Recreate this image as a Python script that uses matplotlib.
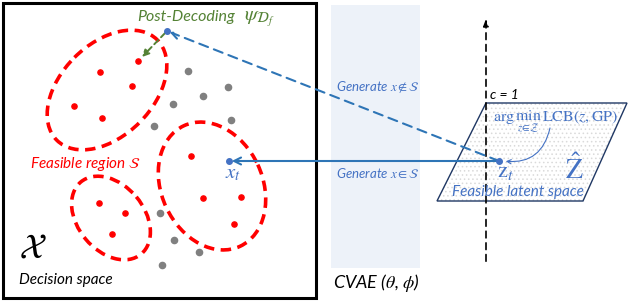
import matplotlib
matplotlib.use('Agg')
import matplotlib.pyplot as plt
from matplotlib.patches import Ellipse, Rectangle, Polygon

plt.rcParams['mathtext.fontset'] = 'stix'
plt.rcParams['hatch.linewidth'] = 0.6

# datos del diagrama (coordenadas en pixeles de la figura)
puntos_rojos_x = [138, 100, 132, 74, 102, 191, 203, 241, 234, 99, 125, 112]
puntos_rojos_y = [61, 72, 86, 106, 118, 156, 198, 197, 224, 203, 213, 234]
puntos_grises_x = [188, 228, 203, 173, 231, 154, 160, 174, 199, 162]
puntos_grises_y = [71, 87, 96, 104, 120, 126, 213, 240, 252, 265]
# regiones factibles: centro x, centro y, ancho, alto, angulo
regiones = [(107, 90, 142, 92, -45),
            (212, 186, 133, 101, 65),
            (111, 218, 94, 66, 50)]
punto_decod = (167, 31)
punto_xt = (229, 161)
punto_zt = (499, 161)
plano_x = [486, 627, 583, 437]
plano_y = [103, 103, 201, 201]

azul = '#2E75B6'
azul_txt = '#4472C4'
verde = '#548235'
fuente = ['Lato', 'DejaVu Sans']

fig = plt.figure(figsize=(6.28, 3.07), dpi=100)
ax = fig.add_axes([0, 0, 1, 1])
ax.set_xlim(0, 628)
ax.set_ylim(307, 0)
ax.axis('off')

# espacio de decision
ax.add_patch(Rectangle((3, 3), 313, 295, fill=False, ec='black', lw=2.2))
# banda CVAE
ax.add_patch(Rectangle((331, 5), 89, 263, fc='#EDF2F9', ec='none'))

for cx, cy, w, h, ang in regiones:
    ax.add_patch(Ellipse((cx, cy), w, h, angle=ang, fill=False, ec='red',
                         lw=2.6, ls=(0, (2.9, 1.8))))

ax.scatter(puntos_rojos_x, puntos_rojos_y, s=14, color='red', zorder=3)
ax.scatter(puntos_grises_x, puntos_grises_y, s=20, color='#808080', zorder=3)

# plano latente
pts = list(zip(plano_x, plano_y))
ax.add_patch(Polygon(pts, closed=True, fc='white', ec='#DADADA', hatch='....',
                     lw=0))
ax.add_patch(Polygon(pts, closed=True, fill=False, ec='#203864', lw=1))

# eje c
ax.annotate('', xy=(486, 16), xytext=(486, 264),
            arrowprops=dict(arrowstyle='-|>,head_width=0.15,head_length=0.4',
                            color='black', lw=1.2, ls=(0, (4, 3))))

# flechas
ax.annotate('', xy=punto_decod, xytext=punto_zt,
            arrowprops=dict(arrowstyle='->,head_width=0.25,head_length=0.5',
                            color=azul, lw=1.5, ls=(0, (4.5, 3)),
                            shrinkA=0, shrinkB=2))
ax.annotate('', xy=punto_xt, xytext=punto_zt,
            arrowprops=dict(arrowstyle='->,head_width=0.25,head_length=0.5',
                            color=azul, lw=1.5, shrinkA=0, shrinkB=2))
ax.annotate('', xy=(142, 57), xytext=punto_decod,
            arrowprops=dict(arrowstyle='-|>,head_width=0.2,head_length=0.4',
                            color=verde, lw=1.4, ls=(0, (3, 2)),
                            shrinkA=2, shrinkB=0))
ax.annotate('', xy=(503, 161), xytext=(550, 128),
            arrowprops=dict(arrowstyle='->,head_width=0.15,head_length=0.3',
                            color=azul_txt, lw=0.8,
                            connectionstyle='arc3,rad=-0.45',
                            shrinkA=0, shrinkB=2))

ax.scatter([punto_decod[0], punto_xt[0], punto_zt[0]],
           [punto_decod[1], punto_xt[1], punto_zt[1]],
           s=16, color=azul_txt, zorder=4)

# textos
ax.text(137, 17, 'Post-Decoding', color=verde, fontsize=11.5, style='italic',
        family=fuente, va='center')
ax.text(244, 19, r'$\psi_{\mathcal{D}_f}$', color=verde, fontsize=15,
        va='center')
ax.text(30, 164, r'Feasible region $\mathcal{S}$', color='red', fontsize=11,
        style='italic', family=fuente, va='center')
ax.text(233, 173, r'$x_t$', color=azul_txt, fontsize=15, ha='center',
        va='center')
ax.text(19, 248, r'$\mathcal{X}$', color='black', fontsize=25, va='center')
ax.text(19, 280, 'Decision space', color='black', fontsize=11,
        style='italic', family=fuente, va='center')
ax.text(333, 283, r'CVAE ($\theta$, $\phi$)', color='black', fontsize=13,
        style='italic', family=fuente, va='center')
ax.text(336, 87, r'Generate $x \notin \mathcal{S}$', color=azul_txt,
        fontsize=9.5, style='italic', family=fuente, va='center')
ax.text(336, 173, r'Generate $x \in \mathcal{S}$', color=azul_txt,
        fontsize=9.5, style='italic', family=fuente, va='center')
ax.text(490, 95, 'c = 1', color='black', fontsize=10, style='italic',
        family=fuente, va='center')
ax.text(493, 122, r'$\arg\min_{z\in\mathcal{Z}}\,\mathrm{LCB}(z,\mathrm{GP})$',
        color=azul_txt, fontsize=11.5, va='center')
ax.text(505, 172, r'$\mathrm{z}_t$', color=azul_txt, fontsize=16,
        ha='center', va='center')
ax.text(574, 170, r'$\hat{\mathrm{Z}}$', color=azul_txt, fontsize=20,
        ha='center', va='center')
ax.text(452, 192, 'Feasible latent space', color=azul_txt, fontsize=11,
        style='italic', family=fuente, va='center')

fig.savefig('out.png', dpi=100)
